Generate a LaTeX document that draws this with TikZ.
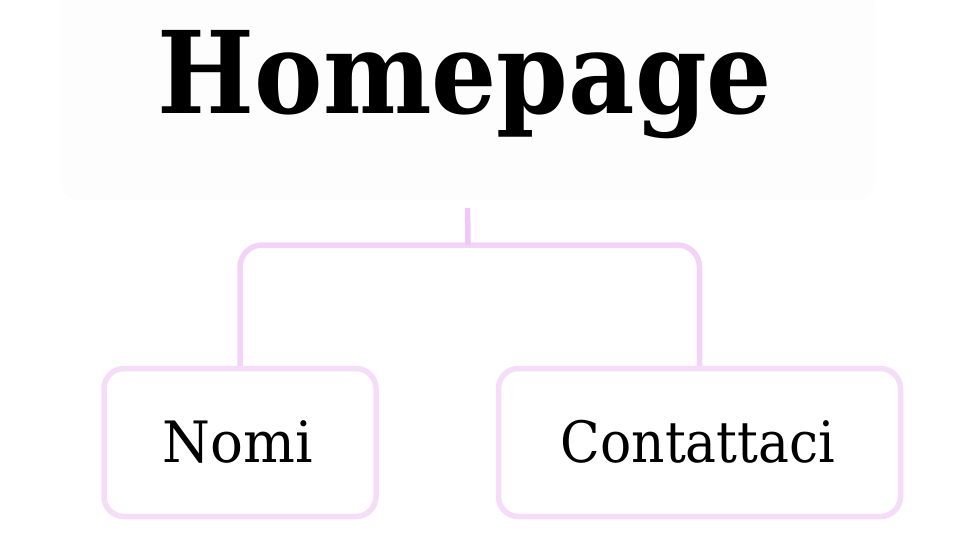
\documentclass[tikz,border=0pt]{standalone}
\usepackage{fontspec}
\setmainfont{DejaVu Serif}
\definecolor{conncol}{HTML}{F3D4F8}
\definecolor{stubcol}{HTML}{EFC8F7}
\definecolor{boxcol}{HTML}{F5DCF9}
\definecolor{titlebg}{HTML}{FDFDFD}
\tikzset{
  conn/.style={draw=conncol, line width=5.5pt},
  leafbox/.style={draw=boxcol, line width=5.5pt, rounded corners=20pt, fill=white, minimum height=148pt, inner sep=0pt},
  titlebox/.style={fill=titlebg, rounded corners=20pt, minimum width=815pt, minimum height=215pt, inner sep=0pt}
}
\begin{document}
\begin{tikzpicture}[x=1pt,y=-1pt]
\useasboundingbox[fill=white] (0,0) rectangle (964,542);
\node[titlebox] (title) at (467.5,92.5) {};
\node[anchor=base] (titletext) at (465,113) {\fontsize{114}{120}\selectfont\scalebox{0.9}[1]{\bfseries Homepage}};
\node[leafbox, minimum width=272pt] (nomi) at (240,442.5) {};
\node[anchor=base] (nomitext) at (238,462) {\fontsize{57}{60}\selectfont\scalebox{0.96}[1]{Nomi}};
\node[leafbox, minimum width=402pt] (cont) at (699.5,442.5) {};
\node[anchor=base] (conttext) at (698,462) {\fontsize{57}{60}\selectfont\scalebox{0.91}[1]{Contattaci}};
\coordinate (hub) at (468,245);
\draw[conn, rounded corners=22pt] (nomi.north) |- (hub) -| (cont.north);
\draw[draw=stubcol, line width=5.5pt, shorten <=8pt] (title.south) -- (hub);
\end{tikzpicture}
\end{document}
